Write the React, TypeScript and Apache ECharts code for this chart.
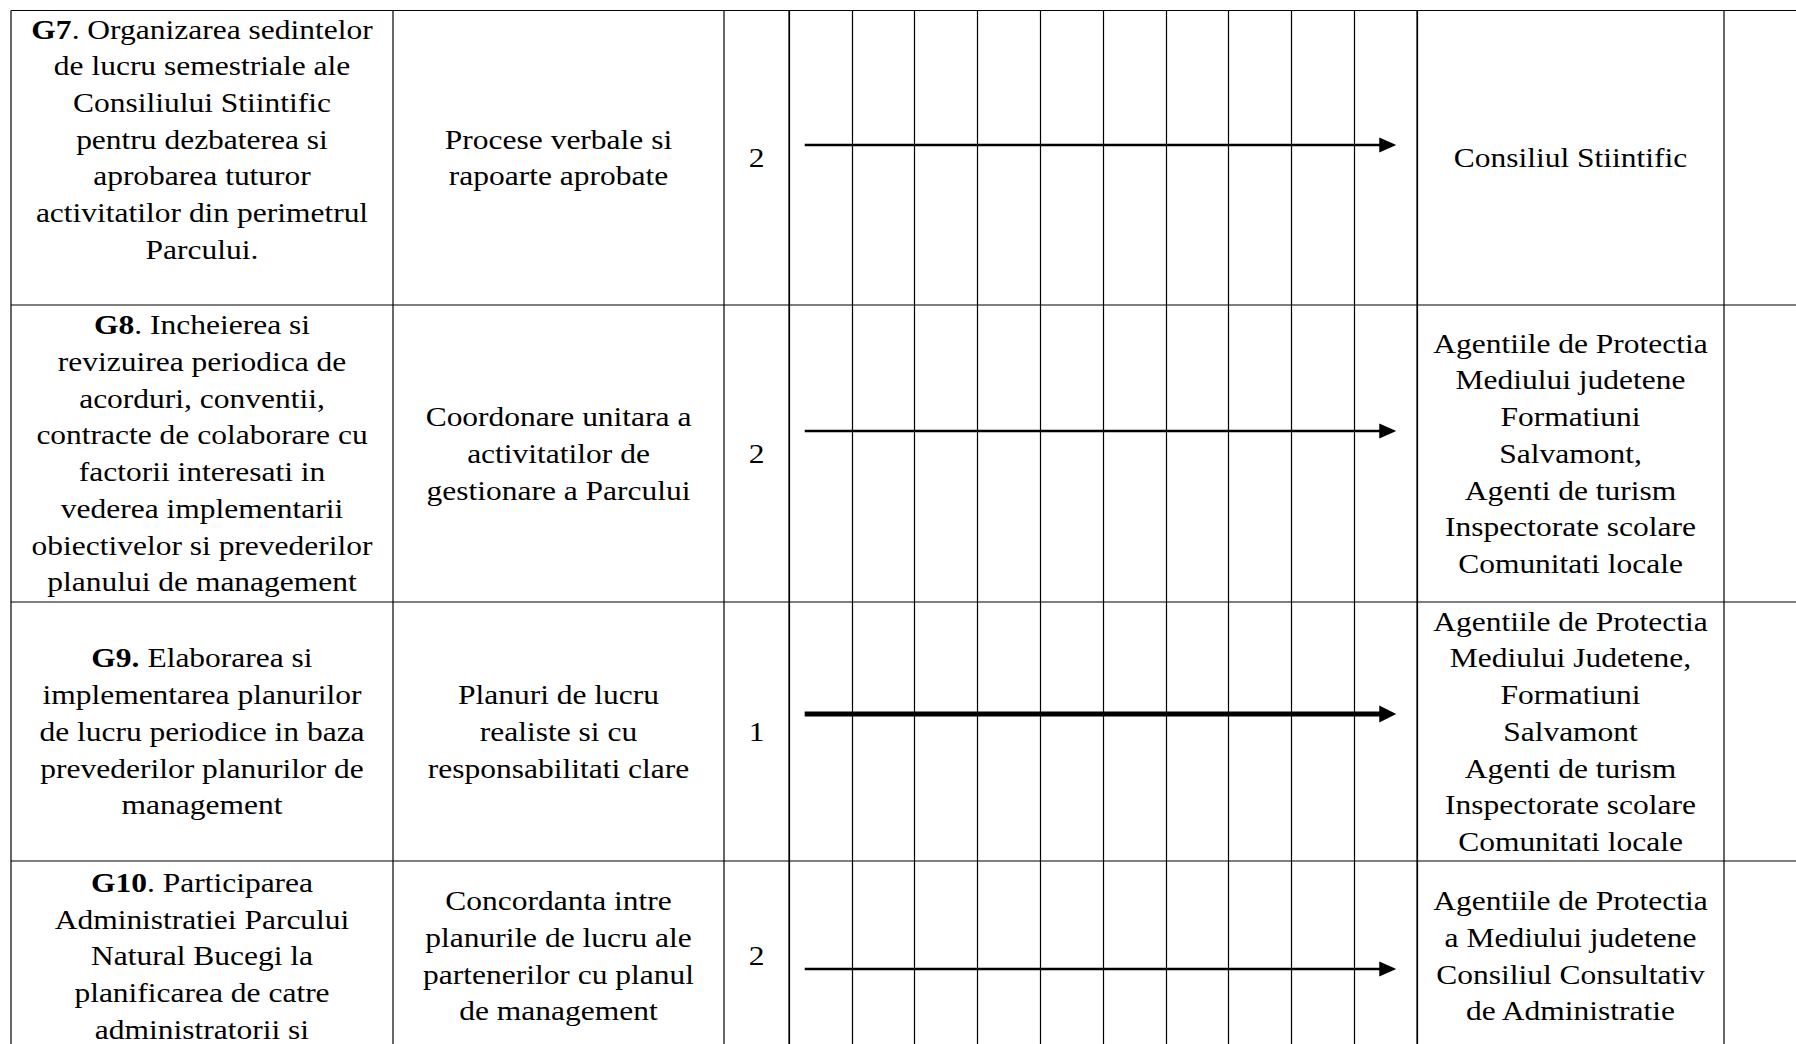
import React, { useEffect, useRef } from "react";
import * as echarts from "echarts";

// ---- data ----
const codes = ["G7", "G8", "G9.", "G10"];
const activities = [
  ". Organizarea sedintelor\nde lucru semestriale ale\nConsiliului Stiintific\npentru dezbaterea si\naprobarea tuturor\nactivitatilor din perimetrul\nParcului.\n ",
  ". Incheierea si\nrevizuirea periodica de\nacorduri, conventii,\ncontracte de colaborare cu\nfactorii interesati in\nvederea implementarii\nobiectivelor si prevederilor\nplanului de management",
  " Elaborarea si\nimplementarea planurilor\nde lucru periodice in baza\nprevederilor planurilor de\nmanagement",
  ". Participarea\nAdministratiei Parcului\nNatural Bucegi la\nplanificarea de catre\nadministratorii si",
];
const results = [
  "Procese verbale si\nrapoarte aprobate",
  "Coordonare unitara a\nactivitatilor de\ngestionare a Parcului",
  "Planuri de lucru\nrealiste si cu\nresponsabilitati clare",
  "Concordanta intre\nplanurile de lucru ale\npartenerilor cu planul\nde management",
];
const priorities = ["2", "2", "1", "2"];
const periodStart = [0.25, 0.25, 0.25, 0.25];
const periodEnd = [9.67, 9.67, 9.67, 9.67];
const responsibles = [
  "Consiliul Stiintific",
  "Agentiile de Protectia\nMediului judetene\nFormatiuni\nSalvamont,\nAgenti de turism\nInspectorate scolare\nComunitati locale",
  "Agentiile de Protectia\nMediului Judetene,\nFormatiuni\nSalvamont\nAgenti de turism\nInspectorate scolare\nComunitati locale",
  "Agentiile de Protectia\na Mediului judetene\nConsiliul Consultativ\nde Administratie",
];
const periodCount = 10;

// ---- layout ----
const W = 1796;
const H = 1044;
const rowEdges = [10.5, 305, 602, 861, 1051];
const colEdges = [11, 393, 724, 789, 1417, 1724];
const arrowOffsets = [-12.7, -22.5, -17.5, 13];
const arrowWidths = [2.6, 2.6, 5, 2.6];
const FONT = "'Liberation Serif', 'Times New Roman', serif";
const FS = 31.5;
const SY = 0.88;
const LH = 36.7 / SY;

export default function App() {
  const ref = useRef<HTMLDivElement>(null);
  useEffect(() => {
    document.body.style.margin = "0";
    if (!ref.current) return;
    const chart = echarts.init(ref.current, undefined, { renderer: "svg" });

    const graphic: any[] = [];
    const lineStyle = { stroke: "#000", lineWidth: 1.2 };
    // horizontal lines
    rowEdges.forEach((y) => {
      graphic.push({
        type: "line",
        silent: true,
        z: 10,
        shape: { x1: colEdges[0], y1: y, x2: W + 10, y2: y },
        style: lineStyle,
      });
    });
    // vertical lines
    colEdges.forEach((x) => {
      graphic.push({
        type: "line",
        silent: true,
        z: 10,
        shape: { x1: x, y1: rowEdges[0], x2: x, y2: rowEdges[rowEdges.length - 1] },
        style: lineStyle,
      });
    });

    const textEl = (text: string, cx: number, cy: number) => ({
      type: "text",
      silent: true,
      z: 20,
      x: cx,
      y: cy,
      scaleY: SY,
      style: {
        text,
        x: 0,
        y: 0,
        align: "center",
        verticalAlign: "middle",
        fontFamily: FONT,
        fontSize: FS,
        lineHeight: LH,
        fill: "#000",
        rich: {
          b: { fontFamily: FONT, fontSize: FS, lineHeight: LH, fontWeight: "bold", fill: "#000" },
        },
      },
    });

    const cx = (i: number) => (colEdges[i] + colEdges[i + 1]) / 2;
    codes.forEach((code, r) => {
      const cy = (rowEdges[r] + rowEdges[r + 1]) / 2;
      graphic.push(textEl("{b|" + code + "}" + activities[r], cx(0), cy));
      graphic.push(textEl(results[r], cx(1), cy));
      graphic.push(textEl(priorities[r], cx(2), cy));
      graphic.push(textEl(responsibles[r], cx(4), cy));
    });

    const option: any = {
      animation: false,
      backgroundColor: "#fff",
      grid: {
        left: colEdges[3],
        width: colEdges[4] - colEdges[3],
        top: rowEdges[0],
        height: rowEdges[rowEdges.length - 1] - rowEdges[0],
      },
      xAxis: {
        type: "value",
        min: 0,
        max: periodCount,
        interval: 1,
        axisLabel: { show: false },
        axisLine: { show: false },
        axisTick: { show: false },
        splitLine: { show: true, lineStyle: { color: "#000", width: 1.2 } },
      },
      yAxis: { type: "value", min: 0, max: 1, show: false },
      series: [
        {
          type: "custom",
          clip: false,
          silent: true,
          data: codes.map((_, i) => [periodStart[i], periodEnd[i], i]),
          renderItem: (_params: any, api: any) => {
            const i = api.value(2) as number;
            const x0 = api.coord([api.value(0), 0])[0];
            const x1 = api.coord([api.value(1), 0])[0];
            const y = (rowEdges[i] + rowEdges[i + 1]) / 2 + arrowOffsets[i];
            const w = arrowWidths[i];
            const hl = 17;
            const hh = w > 3 ? 8.5 : 7.5;
            return {
              type: "group",
              children: [
                {
                  type: "line",
                  shape: { x1: x0, y1: y, x2: x1 - hl + 1, y2: y },
                  style: { stroke: "#000", lineWidth: w },
                },
                {
                  type: "polygon",
                  shape: { points: [[x1, y], [x1 - hl, y - hh], [x1 - hl, y + hh]] },
                  style: { fill: "#000" },
                },
              ],
            };
          },
        },
      ],
      graphic,
    };
    chart.setOption(option);
    return () => chart.dispose();
  }, []);
  return <div ref={ref} style={{ width: W, height: H }} />;
}
